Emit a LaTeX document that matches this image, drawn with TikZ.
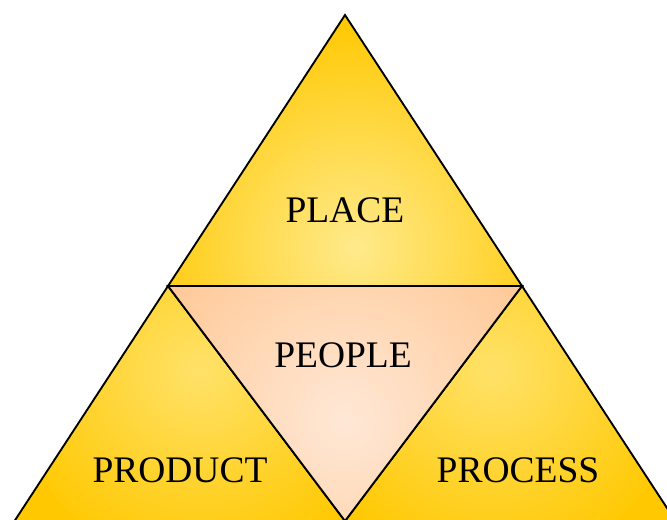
\documentclass[tikz,border=0pt]{standalone}
\usepackage{fontspec}
\setmainfont{Liberation Serif}
\usetikzlibrary{positioning}
\definecolor{Gold}{RGB}{255,200,0}
\definecolor{Goldlight}{RGB}{255,234,140}
\definecolor{Peach}{RGB}{255,198,145}
\definecolor{Peachlight}{RGB}{255,232,214}
\tikzstyle{face}=[draw=black, line width=1.6pt, line join=miter]
\tikzstyle{word}=[font=\fontsize{32}{38}\selectfont, inner sep=0pt]
% soft light spot inside a face: centre, radius, light colour, base colour
\newcommand{\glow}[4]{\shade[inner color=#3, outer color=#4] #1 circle (#2);}

\begin{document}
\begin{tikzpicture}[x=0.03cm, y=-0.03cm]
	\useasboundingbox (0,0) rectangle (667,519);
	\coordinate (top) at (345,15);
	\coordinate (L) at (168,286);
	\coordinate (R) at (522,286);
	\coordinate (bot) at (345,521);
	\coordinate (BL) at (-9,557);
	\coordinate (BR) at (699,557);
	\coordinate (BM) at (345,557);
	% the three gold corners
	\path[face, fill=Gold, path picture={\glow{(355,250)}{230}{Goldlight}{Gold}}]
		(top) -- (R) -- (L) -- cycle;
	\path[face, fill=Gold, path picture={\glow{(210,370)}{200}{Goldlight!75!Gold}{Gold}}]
		(L) -- (bot) -- (BM) -- (BL) -- cycle;
	\path[face, fill=Gold, path picture={\glow{(485,370)}{200}{Goldlight!75!Gold}{Gold}}]
		(R) -- (BR) -- (BM) -- (bot) -- cycle;
	% peach centre
	\path[face, fill=Peach, path picture={\glow{(345,420)}{240}{Peachlight}{Peach}}]
		(L) -- (R) -- (bot) -- cycle;
	\node[word] (place) at (345,210) {PLACE};
	\node[word] (people) at (343,355) {PEOPLE};
	\node[word] (product) at (180,470) {PRODUCT};
	\node[word] (process) at (518,470) {PROCESS};
\end{tikzpicture}
\end{document}
